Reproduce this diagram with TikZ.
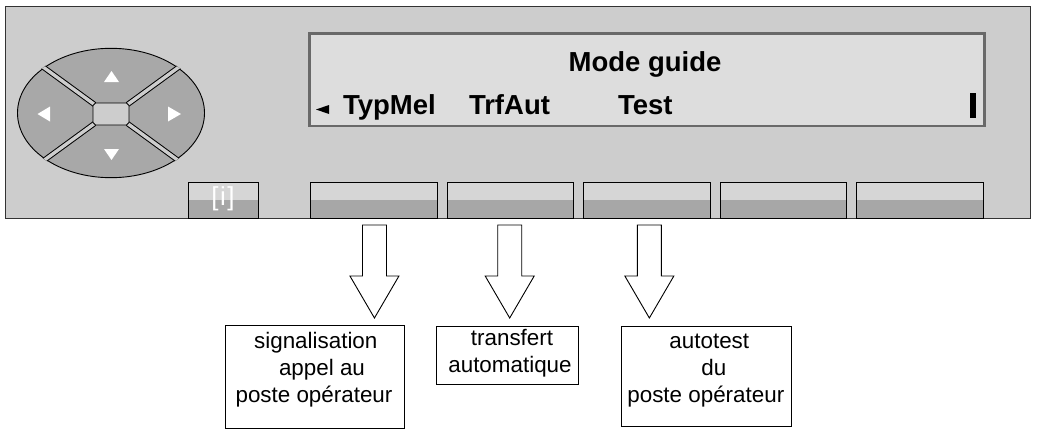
\documentclass[tikz,border=0pt]{standalone}
\usepackage{fontspec}
\setmainfont{Liberation Sans}
\usetikzlibrary{calc}
\definecolor{panelgray}{RGB}{205,205,205}
\definecolor{lcdgray}{RGB}{221,221,221}
\definecolor{lcdframe}{RGB}{105,105,105}
\definecolor{keytop}{RGB}{214,214,214}
\definecolor{keydark}{RGB}{167,167,167}
\definecolor{padgray}{RGB}{168,168,168}
\begin{document}
\begin{tikzpicture}[x=1pt,y=-1pt,
  every node/.style={outer sep=0pt},
  keybox/.style={draw=black, line width=0.9pt, fill=keytop, minimum height=35.7pt,
    inner sep=0pt, anchor=north west,
    path picture={\fill[keydark] (path picture bounding box.west) rectangle (path picture bounding box.south east);}},
  softkey/.style={keybox, minimum width=126.5pt},
  lcdtext/.style={inner sep=0pt, font=\bfseries\fontsize{27.5}{30}\selectfont},
  infobox/.style={draw=black, line width=0.9pt, fill=white, inner sep=0pt, anchor=north west},
  infotext/.style={inner sep=0pt, anchor=north, align=center, font=\fontsize{22.4}{27}\selectfont},
  barrow/.style={draw=black, line width=0.9pt, fill=white, line join=miter},
  tri/.style={fill=white}]
\useasboundingbox (0,0) rectangle (1037,439);
% panel
\node[draw=black!80, line width=1pt, fill=panelgray, anchor=north west,
  minimum width=1025pt, minimum height=211.3pt, inner sep=0pt] (panel) at (5,6.7) {};
% navigation pad
\fill[padgray] (111,113) ellipse [x radius=93.5, y radius=64.7];
\draw[line width=0.9pt] (111,113) ellipse [x radius=93.5, y radius=64.7];
\begin{scope}
  \clip (111,113) ellipse [x radius=94.3, y radius=65.5];
  \foreach \a/\b/\c/\d in {94.5/104.5/-1.5/34.5, 127.5/104.5/223.5/34.5,
                          94.5/123.5/-1.5/193.5, 127.5/123.5/223.5/193.5}{
    \draw[line width=5.4pt, black] (\a,\b) -- (\c,\d);
    \draw[line width=3.4pt, panelgray] (\a,\b) -- (\c,\d);
  }
\end{scope}
\filldraw[fill=panelgray, draw=black, line width=0.9pt]
  (93,105.5) -- (95.5,103) -- (126.5,103) -- (129,105.5) -- (129,122.5) -- (126.5,125)
  -- (95.5,125) -- (93,122.5) -- cycle;
\fill[tri] (104,82) -- (119,82) -- (111.5,71) -- cycle;
\fill[tri] (104,149) -- (119,149) -- (111.5,160) -- cycle;
\fill[tri] (50,106.5) -- (50,121.5) -- (37.5,114) -- cycle;
\fill[tri] (168,106.5) -- (168,121.5) -- (181,114) -- cycle;
% info key
\node[keybox, minimum width=70pt] (ik) at (188,182.3) {};
\node[inner sep=0pt, text=white, font=\fontsize{26}{26}\selectfont] (itext) at (223,199) {[\kern1.5pt i\kern1.5pt]};
% display
\node[draw=lcdframe, line width=2.5pt, fill=lcdgray, anchor=north west,
  minimum width=675pt, minimum height=92.7pt, inner sep=0pt] (lcd) at (309.3,33.3) {};
\node[lcdtext, anchor=base] (title) at (645,71.7) {Mode guide};
\fill (316,109.5) -- (329,105) -- (329,114) -- cycle;
\node[lcdtext, anchor=base west] (m1) at (343,114) {TypMel};
\node[lcdtext, anchor=base west] (m2) at (469,114) {TrfAut};
\node[lcdtext, anchor=base west] (m3) at (618,114) {Test};
\fill (970,92.7) rectangle (976,117.7);
% soft keys
\node[softkey] (k1) at (310.7,182.3) {};
\node[softkey] (k2) at (447.15,182.3) {};
\node[softkey] (k3) at (583.6,182.3) {};
\node[softkey] (k4) at (720.05,182.3) {};
\node[softkey] (k5) at (856.5,182.3) {};
% explanation boxes
\node[infobox, minimum width=178.6pt, minimum height=103.3pt] (b1) at (225.7,325) {};
\node[infobox, minimum width=141.6pt, minimum height=57.6pt] (b2) at (436.7,326.7) {};
\node[infobox, minimum width=169.3pt, minimum height=100pt] (b3) at (621.7,326.7) {};
\node[infotext] (t1) at (314,331) {\rule{0pt}{17pt}\hspace*{3.6pt}signalisation\\\hspace*{16pt}appel au\\poste opérateur};
\node[infotext] (t2) at (510,328) {\rule{0pt}{17pt}\hspace*{4pt}transfert\\automatique};
\node[infotext] (t3) at (705.8,331.3) {\rule{0pt}{17pt}\hspace*{7pt}autotest\\\hspace*{16pt}du\\poste opérateur};
% block arrows
\foreach \k/\dx in {k1/0.5, k2/-0.7, k3/2.5}{
  \draw[barrow] ($(\k.south)+(\dx-12,7)$) -- ++(0,51) -- ++(-12.5,0) -- ++(24.5,42)
    -- ++(24.5,-42) -- ++(-12.5,0) -- ++(0,-51) -- cycle;
}
\end{tikzpicture}
\end{document}
